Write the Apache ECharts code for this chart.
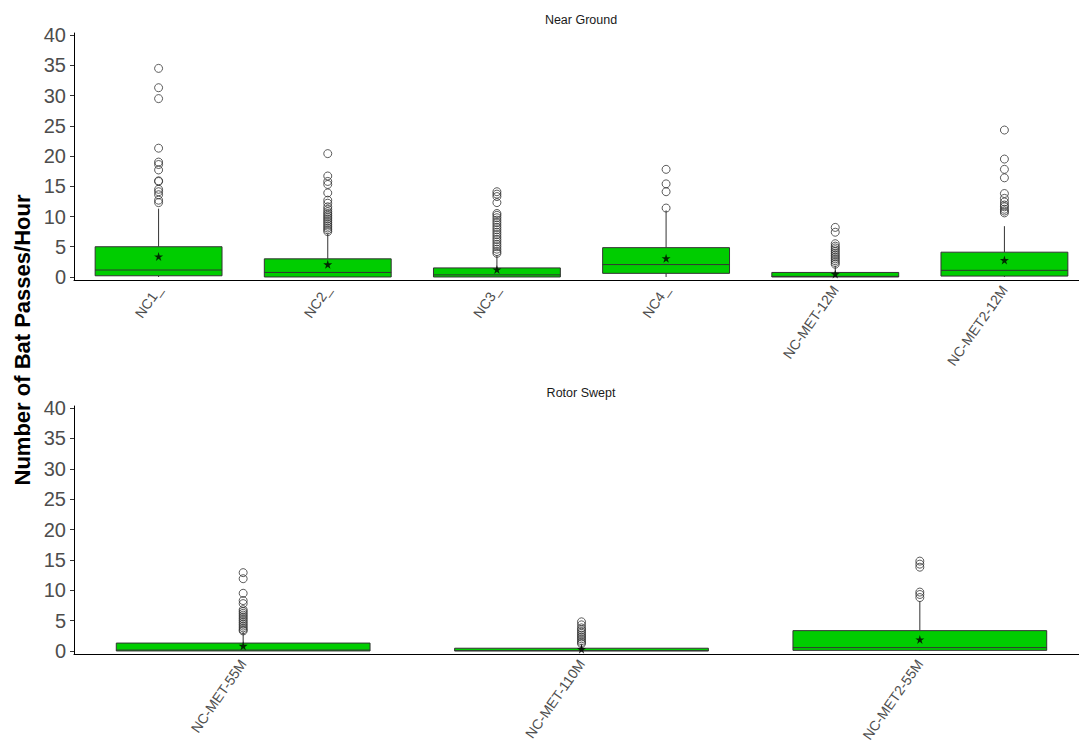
<!DOCTYPE html>
<html>
<head>
<meta charset="utf-8">
<script src="https://cdn.jsdelivr.net/npm/echarts@6/dist/echarts.min.js"></script>
<style>
  html, body { margin: 0; padding: 0; background: #fff; }
  #chart { width: 1079px; height: 741px; }
</style>
</head>
<body>
<div id="chart"></div>
<script>
// --- data: [lowWhisker, Q1, median, Q3, highWhisker] ---
var topCats = ['NC1_', 'NC2_', 'NC3_', 'NC4_', 'NC-MET-12M', 'NC-MET2-12M'];
var topBoxes = [
  [0, 0.2, 1.15, 5.0, 11.3],
  [0, 0, 0.75, 3.0, 7.2],
  [0, 0, 0.35, 1.5, 3.6],
  [0, 0.6, 2.05, 4.85, 11.0],
  [0, 0, 0.1, 0.75, 1.85],
  [0, 0.15, 1.1, 4.1, 8.4]
];
var topMeans = [3.4, 2.1, 1.25, 3.1, 0.5, 2.8];
var topOutliers = [
  [34.5, 31.3, 29.5, 21.3, 19.0, 18.6, 17.7, 15.9, 15.8, 14.5, 14.1, 13.6, 12.7, 12.3],
  [20.4, 16.7, 15.8, 15.3, 13.9, 12.7, 12.2, 11.6, 11.2, 10.8, 10.5, 10.2, 9.9, 9.6, 9.3, 9.0, 8.7, 8.4, 8.1, 7.8, 7.5],
  [14.1, 13.7, 13.3, 12.3, 10.5, 10.2, 9.8, 9.4, 9.0, 8.6, 8.2, 7.8, 7.4, 7.0, 6.6, 6.2, 5.8, 5.4, 5.0, 4.6, 4.2, 3.9],
  [17.8, 15.4, 14.1, 11.4],
  [8.2, 7.4, 5.5, 5.1, 4.8, 4.5, 4.2, 3.9, 3.6, 3.3, 3.0, 2.7, 2.4, 2.1],
  [24.3, 19.5, 17.8, 16.4, 13.8, 13.0, 12.4, 11.9, 11.6, 11.2, 10.9, 10.6]
];

var botCats = ['NC-MET-55M', 'NC-MET-110M', 'NC-MET2-55M'];
var botBoxes = [
  [0, 0, 0.15, 1.3, 3.1],
  [0, 0, 0.05, 0.45, 1.1],
  [0, 0.1, 0.55, 3.35, 8.2]
];
var botMeans = [0.85, 0.3, 1.9];
var botOutliers = [
  [12.9, 11.9, 9.5, 8.3, 7.8, 6.8, 6.5, 6.2, 5.9, 5.6, 5.3, 5.0, 4.7, 4.4, 4.1, 3.8, 3.5, 3.3],
  [4.8, 4.3, 3.8, 3.5, 3.2, 2.9, 2.6, 2.3, 2.0, 1.7, 1.4, 1.2],
  [14.8, 14.3, 13.8, 9.7, 9.3, 8.8]
];

var panelTitles = ['Near Ground', 'Rotor Swept'];
var yTitle = 'Number of Bat Passes/Hour';

(function() {
  var green = '#00CD00';
  var line = '#333333';
  var labelGrey = '#4d4d4d';
  var font = '"Liberation Sans", Arial, sans-serif';
  var star = 'path://M50,0 L61,35 L98,35 L68,57 L79,91 L50,70 L21,91 L32,57 L2,35 L39,35 Z';

  function boxRows(boxes) {
    return boxes.map(function(b, i) { return [i].concat(b); });
  }
  function pointRows(vals) {
    return vals.map(function(v, i) { return [i, v]; });
  }
  function outlierRows(lists) {
    var rows = [];
    lists.forEach(function(l, i) {
      l.forEach(function(v) { rows.push([i, v]); });
    });
    return rows;
  }

  // ggplot-like box: no whisker caps
  function renderBox(params, api) {
    var cat = api.value(0);
    var lo = api.coord([cat, api.value(1)]);
    var q1 = api.coord([cat, api.value(2)]);
    var md = api.coord([cat, api.value(3)]);
    var q3 = api.coord([cat, api.value(4)]);
    var hi = api.coord([cat, api.value(5)]);
    var half = api.size([1, 0])[0] * 0.75 / 2;
    var x = md[0];
    var ls = { stroke: line, lineWidth: 1 };
    return {
      type: 'group',
      children: [
        { type: 'line', shape: { x1: x, y1: hi[1], x2: x, y2: q3[1] }, style: ls },
        { type: 'line', shape: { x1: x, y1: q1[1], x2: x, y2: lo[1] }, style: ls },
        { type: 'rect', shape: { x: x - half, y: q3[1], width: half * 2, height: q1[1] - q3[1] },
          style: { fill: green, stroke: line, lineWidth: 1 } },
        { type: 'line', shape: { x1: x - half, y1: md[1], x2: x + half, y2: md[1] }, style: ls }
      ]
    };
  }

  function xAxisOpt(idx, cats) {
    return {
      type: 'category', gridIndex: idx, data: cats,
      axisLine: { onZero: false, lineStyle: { color: '#000', width: 1 } },
      axisTick: { alignWithLabel: true, length: 4, lineStyle: { color: line } },
      axisLabel: { interval: 0, rotate: 55, margin: 7, color: labelGrey, fontSize: 14, fontFamily: font },
      splitLine: { show: false }
    };
  }
  function yAxisOpt(idx) {
    return {
      type: 'value', gridIndex: idx, min: -0.5, max: 40.35, splitNumber: 8,
      axisLine: { show: true, lineStyle: { color: '#000', width: 1 } },
      axisTick: { show: true, length: 4, lineStyle: { color: line } },
      axisLabel: { color: labelGrey, fontSize: 20, fontFamily: font, margin: 8,
                   showMinLabel: false, showMaxLabel: false },
      splitLine: { show: false }
    };
  }
  function panelSeries(idx, boxes, means, outliers) {
    return [
      {
        type: 'custom', xAxisIndex: idx, yAxisIndex: idx,
        renderItem: renderBox,
        encode: { x: 0, y: [1, 2, 3, 4, 5] },
        data: boxRows(boxes), z: 2
      },
      {
        type: 'scatter', xAxisIndex: idx, yAxisIndex: idx,
        symbol: 'circle', symbolSize: 8,
        itemStyle: { color: 'rgba(0,0,0,0)', borderColor: line, borderWidth: 1 },
        data: outlierRows(outliers), z: 3
      },
      {
        type: 'scatter', xAxisIndex: idx, yAxisIndex: idx,
        symbol: star, symbolSize: 9,
        itemStyle: { color: '#000' },
        data: pointRows(means), z: 4
      }
    ];
  }

  var chart = echarts.init(document.getElementById('chart'), null, { renderer: 'svg' });
  chart.setOption({
    animation: false,
    backgroundColor: '#fff',
    grid: [
      { left: 74, top: 33, width: 1015, height: 247, outerBoundsMode: 'none' },
      { left: 74, top: 406, width: 1015, height: 248, outerBoundsMode: 'none' }
    ],
    xAxis: [xAxisOpt(0, topCats), xAxisOpt(1, botCats)],
    yAxis: [yAxisOpt(0), yAxisOpt(1)],
    series: panelSeries(0, topBoxes, topMeans, topOutliers)
      .concat(panelSeries(1, botBoxes, botMeans, botOutliers)),
    graphic: [
      { type: 'text', x: 581, y: 20,
        style: { text: panelTitles[0], fill: '#1a1a1a', font: '12.5px ' + font, textAlign: 'center', textVerticalAlign: 'middle' } },
      { type: 'text', x: 581, y: 393,
        style: { text: panelTitles[1], fill: '#1a1a1a', font: '12.5px ' + font, textAlign: 'center', textVerticalAlign: 'middle' } },
      { type: 'text', x: 22, y: 340, rotation: Math.PI / 2,
        style: { text: yTitle, fill: '#000', font: 'bold 22px ' + font, textAlign: 'center', textVerticalAlign: 'middle' } }
    ]
  });
})();
</script>
</body>
</html>
